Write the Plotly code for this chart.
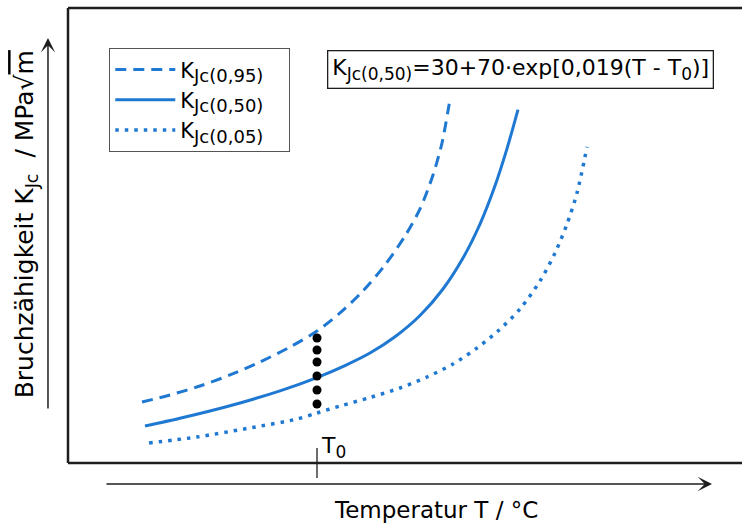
import plotly.graph_objects as go

# ---- data (x = T - T0 in °C, y = K_Jc in MPa·√m) ----
x_k95 = [-87.5, -73.5, -58.5, -43.5, -28.5, -13.5, 0, 11.5, 22.5, 34, 44, 51.5, 58, 62.5, 66.5]
y_k95 = [71.7, 80.0, 90.5, 103.5, 118.8, 136.4, 155.2, 176.4, 201.1, 232.8, 266.9, 298.7, 338.6, 376.3, 428.0]

x_k50 = [-86, -68.5, -43.5, -18.5, 0, 14, 26.5, 39, 51.5, 63, 73, 81.5, 89, 95, 100.5]
y_k50 = [43.5, 52.6, 67.3, 84.9, 100.5, 114.6, 129.3, 148.4, 173.4, 204.6, 241.0, 281.0, 326.0, 369.7, 415.6]

x_k05 = [-84, -60, -35, -10, 0, 11.5, 26.5, 41.5, 55, 68, 80, 90.5, 101.5, 111.5, 119, 125, 130, 135]
y_k05 = [23.5, 30.6, 40.6, 51.7, 58.8, 67.0, 77.0, 88.2, 101.1, 116.4, 135.2, 155.2, 181.1, 214.0, 246.9, 281.0, 317.5, 371.6]

x_scatter = [0, 0, 0, 0, 0, 0]
y_scatter = [147.0, 132.9, 118.8, 102.3, 85.8, 69.4]

SUB = "<sub><span style='font-size:{}px'>{}</span></sub>"
PAD = "\u00a0\u00a0\u00a0"
names = ["K" + SUB.format(18, "Jc(0,95)") + PAD,
         "K" + SUB.format(18, "Jc(0,50)") + PAD,
         "K" + SUB.format(18, "Jc(0,05)") + PAD]
formula = "K" + SUB.format(17, "Jc(0,50)") + "=30+70·exp[0,019(T - T" + SUB.format(17, "0") + ")]"
x_title = "Temperatur T / °C"
y_title = ("Bruchzähigkeit K<sub>Jc</sub>\u00a0\u00a0/ MPa√"
           "<span style='text-decoration:overline'>m</span>")
t0_label = "T" + SUB.format(17, "0")

x_range = [-124.5, 212.5]
y_range = [0, 535]

BLUE = "#1f78d1"
INK = "#1e1e1e"
FONT = "DejaVu Sans"

fig = go.Figure()
fig.add_trace(go.Scatter(x=x_k95, y=y_k95, mode="lines", name=names[0], legendgroup="a",
                         line=dict(color=BLUE, width=3, dash="11px,7px", shape="spline", smoothing=0.8)))
fig.add_trace(go.Scatter(x=x_k50, y=y_k50, mode="lines", name=names[1], legendgroup="b",
                         line=dict(color=BLUE, width=3, shape="spline", smoothing=0.8)))
fig.add_trace(go.Scatter(x=x_k05, y=y_k05, mode="lines", name=names[2], legendgroup="c",
                         line=dict(color=BLUE, width=3.5, dash="3.5px,6px", shape="spline", smoothing=0.8)))
fig.add_trace(go.Scatter(x=x_scatter, y=y_scatter, mode="markers", showlegend=False,
                         marker=dict(color="black", size=9)))

# frame (left, top, bottom)
frame = dict(color=INK, width=2.5)
fig.add_shape(type="line", xref="paper", yref="paper", x0=0, x1=0, y0=0, y1=1, line=frame)
fig.add_shape(type="line", xref="paper", yref="paper", x0=0, x1=1.01, y0=1, y1=1, line=frame)
fig.add_shape(type="line", xref="paper", yref="paper", x0=0, x1=1.01, y0=0, y1=0, line=frame)
# T0 tick
fig.add_shape(type="line", xref="x", yref="paper", x0=0, x1=0, y0=-0.033, y1=0.033,
              line=dict(color=INK, width=1.3))

annotations = [
    # formula box
    dict(text=formula, xref="paper", yref="paper", x=0.671, y=0.864, xanchor="center", yanchor="middle",
         showarrow=False, font=dict(family=FONT, size=22, color="black"),
         bordercolor=INK, borderwidth=1.3, borderpad=4, bgcolor="white"),
    # T0 label
    dict(text=t0_label, xref="x", yref="paper", x=0, y=0.035, xanchor="left", yanchor="middle", xshift=2,
         showarrow=False, font=dict(family=FONT, size=22, color="black")),
    # axis titles
    dict(text=x_title, xref="paper", yref="paper", x=0.5467, y=-0.103, xanchor="center", yanchor="middle",
         showarrow=False, font=dict(family=FONT, size=23, color="black")),
    dict(text=y_title, xref="paper", yref="paper", x=-0.062, y=0.525, xanchor="center", yanchor="middle",
         textangle=-90, showarrow=False, font=dict(family=FONT, size=25, color="black")),
    # axis arrows
    dict(text="", xref="paper", yref="paper", x=-0.0297, y=0.934, ax=0, ay=372,
         showarrow=True, arrowhead=3, arrowwidth=1.5, arrowsize=1.6, arrowcolor=INK),
    dict(text="", xref="paper", yref="paper", x=0.9555, y=-0.0462, ax=-607, ay=0,
         showarrow=True, arrowhead=3, arrowwidth=1.5, arrowsize=1.6, arrowcolor=INK),
]

fig.update_layout(
    width=742, height=524,
    margin=dict(l=68, r=0, t=8, b=61),
    paper_bgcolor="white", plot_bgcolor="white",
    font=dict(family=FONT, size=21, color="black"),
    xaxis=dict(range=x_range, visible=False, showgrid=False, zeroline=False),
    yaxis=dict(range=y_range, visible=False, showgrid=False, zeroline=False),
    showlegend=True,
    legend=dict(x=0.0608, y=0.912, xanchor="left", yanchor="top",
                bordercolor="#555555", borderwidth=1.3, bgcolor="white",
                font=dict(family=FONT, size=21, color="black"),
                tracegroupgap=0, itemwidth=60),
    annotations=annotations,
)

fig.write_html("out.html")
